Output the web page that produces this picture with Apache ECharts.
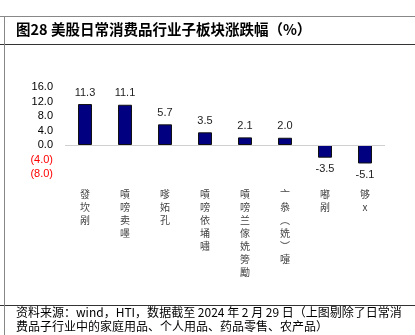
<!DOCTYPE html>
<html><head><meta charset="utf-8">
<script src="https://cdn.jsdelivr.net/npm/echarts@6/dist/echarts.min.js"></script>
<style>html,body{margin:0;padding:0;background:#fff}#c{width:415px;height:335px}</style>
</head><body><div id="c"></div>
<script>
const categories = ['發坎剐','嗊嗙卖嚜','嗲妬孔','嗊嗙依埇嘯','嗊嗙兰傢姺篣勵','亠叅︵姺︶嚏','嘟剐','够x'];
const values = [11.3, 11.1, 5.7, 3.5, 2.1, 2.0, -3.5, -5.1];
const yTicks = [-8, -4, 0, 4, 8, 12, 16];
const titleText = '图28 美股日常消费品行业子板块涨跌幅（%）';
const noteLine1 = '资料来源：wind，HTI，数据截至 2024 年 2 月 29 日（上图剔除了日常消';
const noteLine2 = '费品子行业中的家庭用品、个人用品、药品零售、农产品）';

const chart = echarts.init(document.getElementById('c'), null, {renderer:'canvas'});
chart.setOption({
  animation:false,
  backgroundColor:'#fff',
  grid:{left:65, right:30, top:87, bottom:161, containLabel:false},
  xAxis:{type:'category', data:categories,
    axisLine:{show:false, onZero:false}, axisTick:{show:false},
    axisLabel:{interval:0, margin:14, fontSize:10, lineHeight:13, color:'#444',
      fontFamily:'Noto Sans CJK SC', verticalAlign:'top',
      formatter:v=>v.split('').join('\n')}},
  yAxis:{type:'value', min:yTicks[0], max:yTicks[yTicks.length-1], interval:4,
    axisLine:{show:false}, axisTick:{show:false}, splitLine:{show:false},
    axisLabel:{margin:12, fontSize:11, fontFamily:'Liberation Sans',
      formatter:v=> v<0 ? '{n|('+(-v).toFixed(1)+')}' : '{p|'+v.toFixed(1)+'}',
      rich:{n:{color:'#ff0000', fontSize:11, fontFamily:'Liberation Sans'}, p:{color:'#000', fontSize:11, fontFamily:'Liberation Sans'}}}},
  series:[{type:'bar', data:values.map(v=>({value:v, label:{position: v<0?'bottom':'top'}})), barWidth:'35%',
    itemStyle:{color:'#000080', borderColor:'#111', borderWidth:1},
    label:{show:true, fontSize:11, color:'#222', fontFamily:'Liberation Sans', distance:6,
      formatter:p=>p.value.toFixed(1)},
    markLine:{silent:true, symbol:'none', label:{show:false},
      lineStyle:{color:'#d0d0d0', type:'solid', width:1}, data:[{yAxis:0}]}
  }],
  graphic:[
    {type:'line', shape:{x1:0,y1:16.5,x2:415,y2:16.5}, style:{stroke:'#888', lineWidth:1}},
    {type:'line', shape:{x1:0,y1:44.5,x2:415,y2:44.5}, style:{stroke:'#333', lineWidth:1}},
    {type:'line', shape:{x1:0,y1:305.5,x2:415,y2:305.5}, style:{stroke:'#333', lineWidth:1}},
    {type:'line', shape:{x1:4.5,y1:16,x2:4.5,y2:335}, style:{stroke:'#888', lineWidth:1}},
    {type:'text', left:16, top:22, style:{text:titleText, fill:'#000', font:'bold 14.5px "Noto Sans CJK SC"'}},
    {type:'text', left:16, top:306, style:{text:noteLine1, fill:'#000', font:'12px "Noto Sans CJK SC"'}},
    {type:'text', left:16, top:320, style:{text:noteLine2, fill:'#000', font:'12px "Noto Sans CJK SC"'}}
  ]
});
</script></body></html>
